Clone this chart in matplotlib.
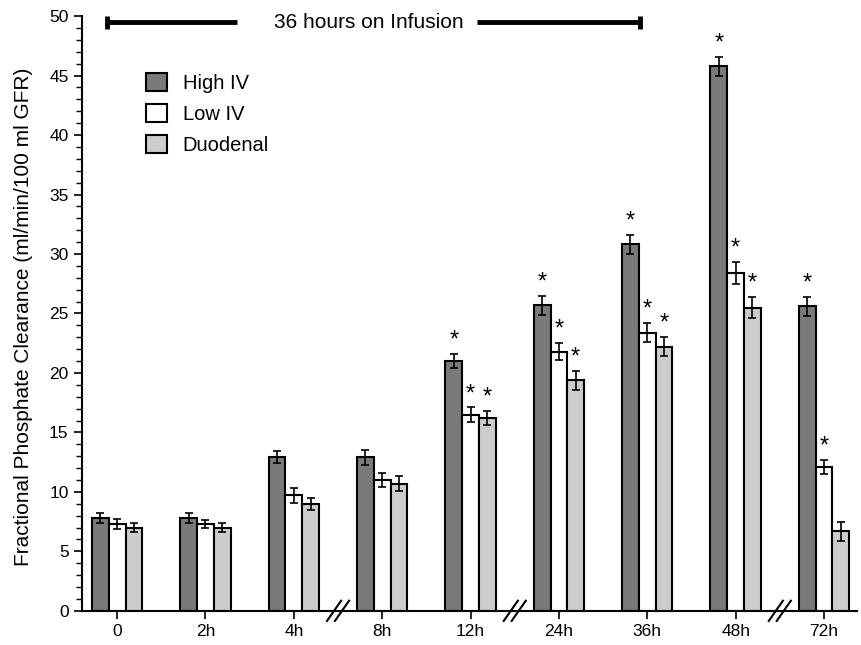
import numpy as np
import matplotlib.pyplot as plt
import matplotlib.transforms as mtransforms

plt.rcParams['font.family'] = ['Liberation Sans', 'DejaVu Sans']

labels = ['0', '2h', '4h', '8h', '12h', '24h', '36h', '48h', '72h']
high_iv = [7.8, 7.8, 12.9, 12.9, 21.0, 25.7, 30.8, 45.8, 25.6]
high_err = [0.4, 0.4, 0.5, 0.6, 0.6, 0.8, 0.8, 0.8, 0.8]
low_iv = [7.3, 7.3, 9.7, 11.0, 16.5, 21.8, 23.4, 28.4, 12.1]
low_err = [0.4, 0.3, 0.6, 0.6, 0.6, 0.7, 0.8, 0.9, 0.6]
duodenal = [7.0, 7.0, 9.0, 10.7, 16.2, 19.4, 22.2, 25.5, 6.7]
duo_err = [0.4, 0.4, 0.5, 0.6, 0.6, 0.8, 0.8, 0.9, 0.8]
# significance flags (1 = star)
high_sig = [0, 0, 0, 0, 1, 1, 1, 1, 1]
low_sig = [0, 0, 0, 0, 1, 1, 1, 1, 1]
duo_sig = [0, 0, 0, 0, 1, 1, 1, 1, 0]
breaks_after = [2, 4, 7]  # axis break between these groups and the next

fig = plt.figure(figsize=(8.61, 6.45), dpi=100)
ax = fig.add_axes([0.095, 0.053, 0.9, 0.922])

x = np.arange(len(labels))
w = 0.19
series = [(high_iv, high_err, high_sig, '#7a7a7a', 'High IV'),
          (low_iv, low_err, low_sig, 'white', 'Low IV'),
          (duodenal, duo_err, duo_sig, '#cccccc', 'Duodenal')]
for k, (vals, errs, sig, col, name) in enumerate(series):
    xs = x + (k - 1) * w
    ax.bar(xs, vals, w, color=col, edgecolor='black', linewidth=1.5, label=name, zorder=2)
    ax.errorbar(xs, vals, yerr=errs, fmt='none', ecolor='black', elinewidth=1.2,
                capsize=3, capthick=1.2, zorder=3)
    for xi, v, e, s in zip(xs, vals, errs, sig):
        if s:
            ax.text(xi, v + e + 0.2, '*', ha='center', va='bottom', fontsize=17)

ax.set_xlim(-0.4, 8.37)
ax.set_ylim(0, 50)
ax.set_xticks(x)
ax.set_xticklabels(labels, fontsize=12.5)
ax.set_yticks(np.arange(0, 51, 5))
ax.set_yticks(np.arange(0, 51, 1), minor=True)
ax.tick_params(axis='y', labelsize=12.5, length=6, width=1.2)
ax.tick_params(axis='y', which='minor', length=4, width=1)
ax.tick_params(axis='x', length=6, width=1.2)
ax.spines['top'].set_visible(False)
ax.spines['right'].set_visible(False)
ax.spines['left'].set_linewidth(1.5)
ax.spines['bottom'].set_linewidth(1.5)
ax.set_ylabel('Fractional Phosphate Clearance (ml/min/100 ml GFR)', fontsize=15)
ax.yaxis.set_label_coords(-0.063, 0.494)

# axis break marks
trans = mtransforms.blended_transform_factory(ax.transData, ax.transAxes)
for b in breaks_after:
    xm = b + 0.5
    for dx in (-0.045, 0.045):
        ax.plot([xm + dx - 0.08, xm + dx + 0.08], [-0.017, 0.017], color='black',
                lw=1.5, transform=trans, clip_on=False, zorder=5)

# infusion bar
y_inf = 49.5
ax.plot([-0.12, 1.36], [y_inf, y_inf], color='black', lw=3.5, solid_capstyle='butt')
ax.plot([4.07, 5.92], [y_inf, y_inf], color='black', lw=3.5, solid_capstyle='butt')
for xe in (-0.12, 5.92):
    ax.plot([xe, xe], [y_inf - 0.55, y_inf + 0.55], color='black', lw=3.5, solid_capstyle='butt')
ax.text(2.85, y_inf, '36 hours on Infusion', ha='center', va='center', fontsize=15)

leg = ax.legend(loc='upper left', bbox_to_anchor=(0.06, 0.935), frameon=False,
                fontsize=14.5, handlelength=1.0, handleheight=1.0, labelspacing=0.55,
                handletextpad=0.8)

fig.savefig('out.png', dpi=100)
